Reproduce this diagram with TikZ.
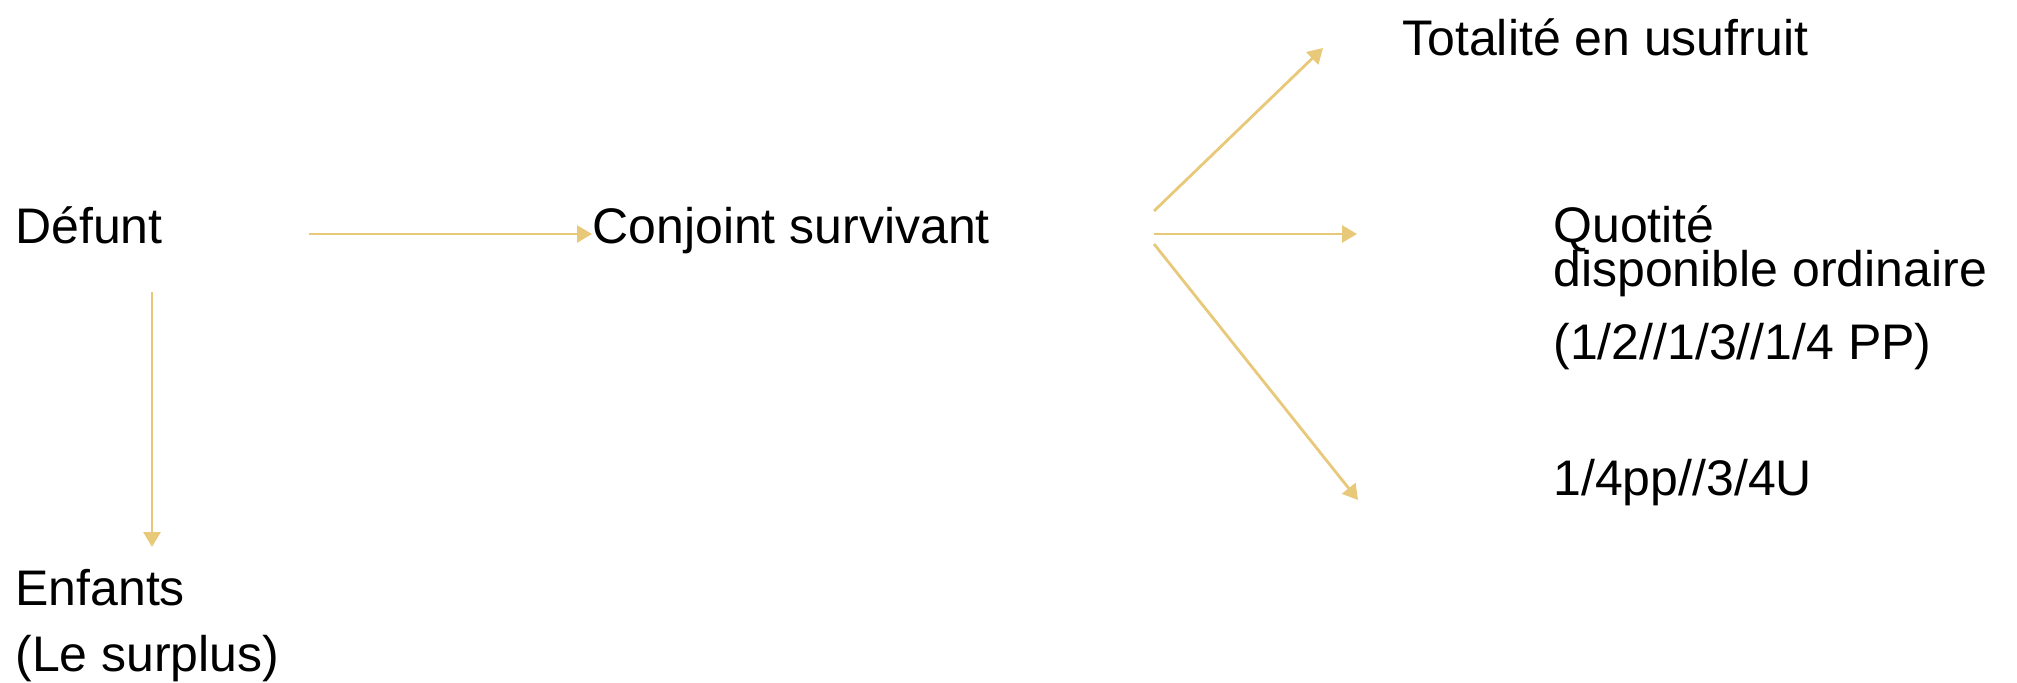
\documentclass[tikz,border=0pt]{standalone}
\usepackage{fontspec}
\setmainfont{Liberation Sans}
\usepackage{xcolor}
\usepackage{tikz}
\usetikzlibrary{positioning, arrows.meta, calc}
\definecolor{gold}{HTML}{E8C97A}

\tikzset{
  lbl/.style={anchor=base west, inner sep=0pt, align=left, font=\fontsize{25}{30}\selectfont},
  arr/.style={draw=gold, line width=1.4pt, -{Triangle[length=7.5pt, width=8.5pt]}}
}

\begin{document}
\begin{tikzpicture}[x=0.5pt, y=-0.5pt]
    \useasboundingbox (0,0) rectangle (2017,682);

    % base anchor of a multi-line node sits on its last line
    \node[lbl] (defunt) at (15,243) {Défunt};
    \node[lbl] (conjoint) at (592,243) {Conjoint survivant};
    \node[lbl] (enfants) at (15,671) {Enfants\\[3pt](Le surplus)};
    \node[lbl] (totalite) at (1402,55) {Totalité en usufruit};
    \node[lbl] (quotite) at (1553,359) {Quotité\\[-8pt]disponible ordinaire\\[6.5pt](1/2//1/3//1/4 PP)};
    \node[lbl] (quart) at (1553,495) {1/4pp//3/4U};

    % free ends of the arrows
    \coordinate (d0) at (309,234);
    \coordinate (d1) at (152,292);
    \coordinate (e1) at (152,547);
    \coordinate (c0) at (1154,211);
    \coordinate (c1) at (1154,234);
    \coordinate (c2) at (1154,244);
    \coordinate (t1) at (1323,48);
    \coordinate (q1) at (1357,234);
    \coordinate (r1) at (1358,500);

    \draw[arr] (d0) -- (conjoint.west |- d0);
    \draw[arr] (d1) -- (e1);
    \draw[arr] (c0) -- (t1);
    \draw[arr] (c1) -- (q1);
    \draw[arr] (c2) -- (r1);
  \end{tikzpicture}
\end{document}
